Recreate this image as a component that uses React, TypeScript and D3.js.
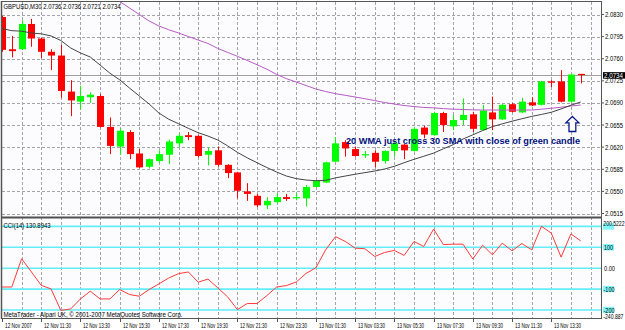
import React from 'react'
import * as d3 from 'd3'

// GBPUSD M30, 12 Nov 09:30 .. 13 Nov 15:00 (60 bars)
const OPEN = [2.0826, 2.0775, 2.0775, 2.0815, 2.0792, 2.0771, 2.0765, 2.0708, 2.0692, 2.0699,
  2.0701, 2.0652, 2.0621, 2.0644, 2.0610, 2.0589, 2.0598, 2.0608, 2.0626, 2.0639,
  2.0638, 2.0608, 2.0615, 2.0592, 2.0580, 2.0550, 2.0543, 2.0528, 2.0533, 2.0541,
  2.0539, 2.0539, 2.0557, 2.0564, 2.0597, 2.0628, 2.0617, 2.0607, 2.0611, 2.0598,
  2.0614, 2.0624, 2.0614, 2.0651, 2.0639, 2.0674, 2.0653, 2.0663, 2.0672, 2.0647,
  2.0675, 2.0664, 2.0688, 2.0675, 2.0691, 2.0687, 2.0724, 2.0724, 2.0692, 2.0736]
const HIGH = [2.0828, 2.0796, 2.0821, 2.0823, 2.0793, 2.0775, 2.0782, 2.0726, 2.0717, 2.0707,
  2.0704, 2.0667, 2.0650, 2.0647, 2.0617, 2.0602, 2.0615, 2.0632, 2.0641, 2.0644,
  2.0639, 2.0620, 2.0621, 2.0593, 2.0581, 2.0563, 2.0546, 2.0541, 2.0547, 2.0546,
  2.0547, 2.0560, 2.0568, 2.0597, 2.0636, 2.0631, 2.0621, 2.0614, 2.0615, 2.0615,
  2.0631, 2.0625, 2.0652, 2.0654, 2.0676, 2.0676, 2.0671, 2.0697, 2.0676, 2.0687,
  2.0700, 2.0689, 2.0690, 2.0698, 2.0699, 2.0725, 2.0726, 2.0742, 2.0736, 2.0736]
const LOW = [2.0771, 2.0762, 2.0774, 2.0779, 2.0761, 2.0742, 2.0698, 2.0669, 2.0680, 2.0690,
  2.0651, 2.0609, 2.0608, 2.0601, 2.0587, 2.0586, 2.0595, 2.0593, 2.0620, 2.0631,
  2.0604, 2.0591, 2.0589, 2.0571, 2.0539, 2.0535, 2.0525, 2.0522, 2.0531, 2.0535,
  2.0536, 2.0526, 2.0557, 2.0563, 2.0597, 2.0605, 2.0605, 2.0603, 2.0588, 2.0594,
  2.0605, 2.0601, 2.0613, 2.0634, 2.0638, 2.0644, 2.0647, 2.0655, 2.0644, 2.0646,
  2.0647, 2.0663, 2.0675, 2.0674, 2.0685, 2.0686, 2.0715, 2.0691, 2.0691, 2.0721]
const CLOSE = [2.0774, 2.0772, 2.0815, 2.0792, 2.0771, 2.0765, 2.0709, 2.0694, 2.0701, 2.0703,
  2.0652, 2.0622, 2.0646, 2.0609, 2.0588, 2.0601, 2.0609, 2.0629, 2.0638, 2.0636,
  2.0606, 2.0614, 2.0592, 2.0579, 2.0551, 2.0546, 2.0528, 2.0535, 2.0541, 2.0538,
  2.0541, 2.0557, 2.0567, 2.0596, 2.0626, 2.0618, 2.0606, 2.0609, 2.0597, 2.0614,
  2.0626, 2.0615, 2.0649, 2.0640, 2.0674, 2.0655, 2.0663, 2.0671, 2.0649, 2.0678,
  2.0664, 2.0687, 2.0676, 2.0692, 2.0686, 2.0724, 2.0722, 2.0692, 2.0735, 2.0734]

// 20 WMA (dark) and 30 SMA (purple, above the chart before bar 10)
const WMA20 = [2.08077, 2.08044, 2.08036, 2.08007, 2.07994, 2.07961, 2.07888, 2.0777, 2.07692, 2.07627,
  2.0750, 2.07371, 2.07266, 2.07136, 2.0701, 2.06883, 2.0674, 2.06642, 2.06571, 2.06498,
  2.06429, 2.06376, 2.06313, 2.06221, 2.06118, 2.06031, 2.05954, 2.05878, 2.05806, 2.05743,
  2.05702, 2.0568, 2.05669, 2.05676, 2.05714, 2.05743, 2.05771, 2.05797, 2.05822, 2.05854,
  2.05897, 2.05954, 2.06007, 2.06056, 2.06106, 2.06174, 2.0624, 2.06329, 2.06395, 2.06463,
  2.06525, 2.06569, 2.06611, 2.0665, 2.06687, 2.06718, 2.06752, 2.06805, 2.06864, 2.06915]
const SMA30 = [null, null, null, null, null, null, null, null, null, null,
  2.08713, 2.08609, 2.08506, 2.08403, 2.0830, 2.08197, 2.08118, 2.08059, 2.08007, 2.07952,
  2.07896, 2.07841, 2.07763, 2.0770, 2.07638, 2.07573, 2.07505, 2.07434, 2.07352, 2.07284,
  2.07231, 2.07176, 2.0712, 2.07081, 2.07046, 2.07021, 2.06994, 2.06967, 2.06937, 2.06907,
  2.06883, 2.06859, 2.06843, 2.06829, 2.06823, 2.0681, 2.06801, 2.06796, 2.06791, 2.06788,
  2.06788, 2.06788, 2.06788, 2.06788, 2.06788, 2.06801, 2.06816, 2.06832, 2.06851, 2.06867]

const CCI14 = [-90, -90, 45, -18, -82, -99, -202, -195, -147, -110,
  -147, -147, -102, -126, -134, -102, -75, -47, -26, -18,
  -67, -52, -94, -137, -198, -169, -169, -131, -90, -83,
  -66, -25, 2, 88, 151, 128, 96, 93, 56, 75,
  85, 61, 128, 104, 187, 113, 115, 115, 44, 110,
  64, 120, 83, 118, 88, 200.5, 168, 53, 164, 130.89]

const TIME_LABELS = ['12 Nov 2007', '12 Nov 11:30', '12 Nov 13:30', '12 Nov 15:30', '12 Nov 17:30',
  '12 Nov 19:30', '12 Nov 21:30', '12 Nov 23:30', '13 Nov 01:30', '13 Nov 03:30',
  '13 Nov 05:30', '13 Nov 07:30', '13 Nov 09:30', '13 Nov 11:30', '13 Nov 13:30']
const PRICE_TICKS = [2.0830, 2.0795, 2.0760, 2.0725, 2.0690, 2.0655, 2.0620, 2.0585, 2.0550, 2.0515]
const CCI_LEVELS = [200, 100, 0, -100, -200]
const LAST_PRICE = 2.0734

const FONT = '"Liberation Sans", Arial, sans-serif'
const GRID = '#a3a3ab'

function T({ x, y, w, size = 7, fill = '#000', bold = false, children }: any) {
  return (
    <text x={x} y={y} fontSize={size} fontFamily={FONT} fill={fill} fontWeight={bold ? 'bold' : 'normal'}
      textLength={w} lengthAdjust="spacingAndGlyphs">{children}</text>
  )
}

// narrow label squeezed against the right edge: small font stretched vertically
function EdgeLabel({ x, y, children }: any) {
  return (
    <text transform={`translate(${x},${y}) scale(1,1.35)`} fontSize={5.1} fontFamily={FONT} fill="#000">{children}</text>
  )
}

export default function App() {
  const W = 625, H = 330
  const left = 2, right = 601, top = 2, mainBottom = 217, cciBottom = 318

  const idx = d3.range(OPEN.length)
  const x = d3.scaleLinear().domain([0, OPEN.length - 1]).range([2, 580.7])
  const y = d3.scaleLinear().domain([2.0515, 2.0830]).range([213.5, 14.5])
  const yc = d3.scaleLinear().domain([-200, 200]).range([310, 226.4])

  const maLine = d3.line<number | null>()
    .defined(d => d != null)
    .x((_, i) => x(i))
    .y(d => y(d as number))
  const cciLine = d3.line<number>().x((_, i) => x(i)).y(d => yc(d))

  const gridIdx = d3.range(2, 61, 2)
  const half = 3

  return (
    <div style={{ position: 'fixed', left: 0, top: 0 }}>
      <svg width={W} height={H} style={{ display: 'block' }}>
        <defs>
          <clipPath id="main"><rect x={left} y={top} width={right - left} height={mainBottom - top} /></clipPath>
          <clipPath id="cci"><rect x={left} y={mainBottom + 1} width={right - left} height={cciBottom - mainBottom - 1} /></clipPath>
        </defs>
        <rect width={W} height={H} fill="#ffffff" />
        <rect x={left} y={top} width={right - left} height={cciBottom - top} fill="#fcfbfe" />

        {/* grid */}
        {PRICE_TICKS.map(p => (
          <line key={p} x1={left} x2={right} y1={Math.round(y(p)) + 0.5} y2={Math.round(y(p)) + 0.5}
            stroke={GRID} strokeDasharray="3,2" />
        ))}
        {gridIdx.map(i => (
          <line key={i} x1={Math.round(x(i)) + 0.5} x2={Math.round(x(i)) + 0.5} y1={top} y2={cciBottom}
            stroke={GRID} strokeDasharray="3,2" />
        ))}
        <line x1={left} x2={right} y1={Math.round(y(LAST_PRICE)) + 0.5} y2={Math.round(y(LAST_PRICE)) + 0.5} stroke="#a0a0a0" />

        {/* candles */}
        <g clipPath="url(#main)">
          {idx.map(i => {
            const up = CLOSE[i] >= OPEN[i]
            const col = up ? '#00ff00' : '#ff0000'
            const cx = Math.round(x(i)) + 0.5
            const bt = y(Math.max(OPEN[i], CLOSE[i]))
            const bb = y(Math.min(OPEN[i], CLOSE[i]))
            return (
              <g key={i}>
                <line x1={cx} x2={cx} y1={y(HIGH[i])} y2={y(LOW[i])} stroke={col} />
                <rect x={cx - half - 0.5} y={bt} width={half * 2 + 1} height={Math.max(1, bb - bt)} fill={col} />
              </g>
            )
          })}
          <path d={maLine(SMA30) || ''} fill="none" stroke="#b65cc4" strokeWidth={1} />
          <path d={maLine(WMA20) || ''} fill="none" stroke="#454545" strokeWidth={1} />
        </g>

        {/* annotation */}
        <T x={346} y={143.6} w={234} size={8.6} fill="#00107c" bold>20 WMA just cross 30 SMA with close of green candle</T>
        <path transform={`translate(${x(58) + 1.5},116.5)`}
          d="M0,0 L6.5,6.3 L3.4,6.3 L3.4,15 L-3.4,15 L-3.4,6.3 L-6.5,6.3 Z"
          fill="#ffffff" stroke="#0a1a8a" strokeWidth={1.3} strokeLinejoin="miter" />

        <T x={3.5} y={9} w={117}>GBPUSD,M30  2.0736 2.0736 2.0721 2.0734</T>

        {/* CCI panel */}
        {CCI_LEVELS.map(l => (
          <line key={l} x1={left} x2={right} y1={yc(l)} y2={yc(l)} stroke="#62eef6" strokeWidth={1.6} />
        ))}
        <g clipPath="url(#cci)">
          <path d={cciLine(CCI14) || ''} fill="none" stroke="#ff3b3b" strokeWidth={1} />
        </g>
        <T x={3.5} y={227.5} w={47}>CCI(14) 130.8943</T>
        <T x={3.5} y={316.5} w={179}>MetaTrader - Alpari UK, © 2001-2007 MetaQuotes Software Corp.</T>

        {/* frame */}
        <line x1={1.5} x2={1.5} y1={1} y2={cciBottom + 1} stroke="#555" strokeWidth={1.5} />
        <line x1={1} x2={right + 1} y1={1.5} y2={1.5} stroke="#555" />
        <line x1={right + 0.5} x2={right + 0.5} y1={1} y2={cciBottom + 1} stroke="#555" />
        <line x1={1} x2={right + 1} y1={mainBottom + 0.5} y2={mainBottom + 0.5} stroke="#505050" strokeWidth={2} />
        <line x1={1} x2={right + 1} y1={cciBottom + 0.5} y2={cciBottom + 0.5} stroke="#555" />

        {/* price axis */}
        {PRICE_TICKS.map(p => (
          <g key={p}>
            <line x1={right} x2={right + 3} y1={y(p)} y2={y(p)} stroke="#555" />
            <T x={605} y={y(p) + 2.5} w={18}>{p.toFixed(4)}</T>
          </g>
        ))}
        <rect x={603} y={y(LAST_PRICE) - 3} width={22} height={6.5} fill="#000" />
        <T x={604} y={y(LAST_PRICE) + 2.5} w={19} fill="#ffffff">{LAST_PRICE.toFixed(4)}</T>

        {/* CCI axis */}
        {CCI_LEVELS.filter(l => l !== 0).map(l => (
          <rect key={l} x={603} y={yc(l) - 3.2} width={11} height={6.4} fill="#7ff8fc" />
        ))}
        <EdgeLabel x={603.3} y={226}>200.5222</EdgeLabel>
        <T x={604} y={yc(100) + 2.5} w={9}>100</T>
        <T x={604} y={yc(0) + 2.5} w={11}>0.00</T>
        <T x={603.5} y={yc(-100) + 2.5} w={11}>-100</T>
        <T x={603.5} y={yc(-200) + 2.5} w={11}>-200</T>
        <EdgeLabel x={603.3} y={319}>-240.887</EdgeLabel>

        {/* time axis */}
        {TIME_LABELS.map((t, k) => {
          const tx = Math.round(x(k * 4)) + 0.5
          return (
            <g key={t}>
              <line x1={tx} x2={tx} y1={cciBottom} y2={cciBottom + 4} stroke="#555" />
              <T x={tx + 2.5} y={327.5} w={27}>{t}</T>
            </g>
          )
        })}
      </svg>
    </div>
  )
}
